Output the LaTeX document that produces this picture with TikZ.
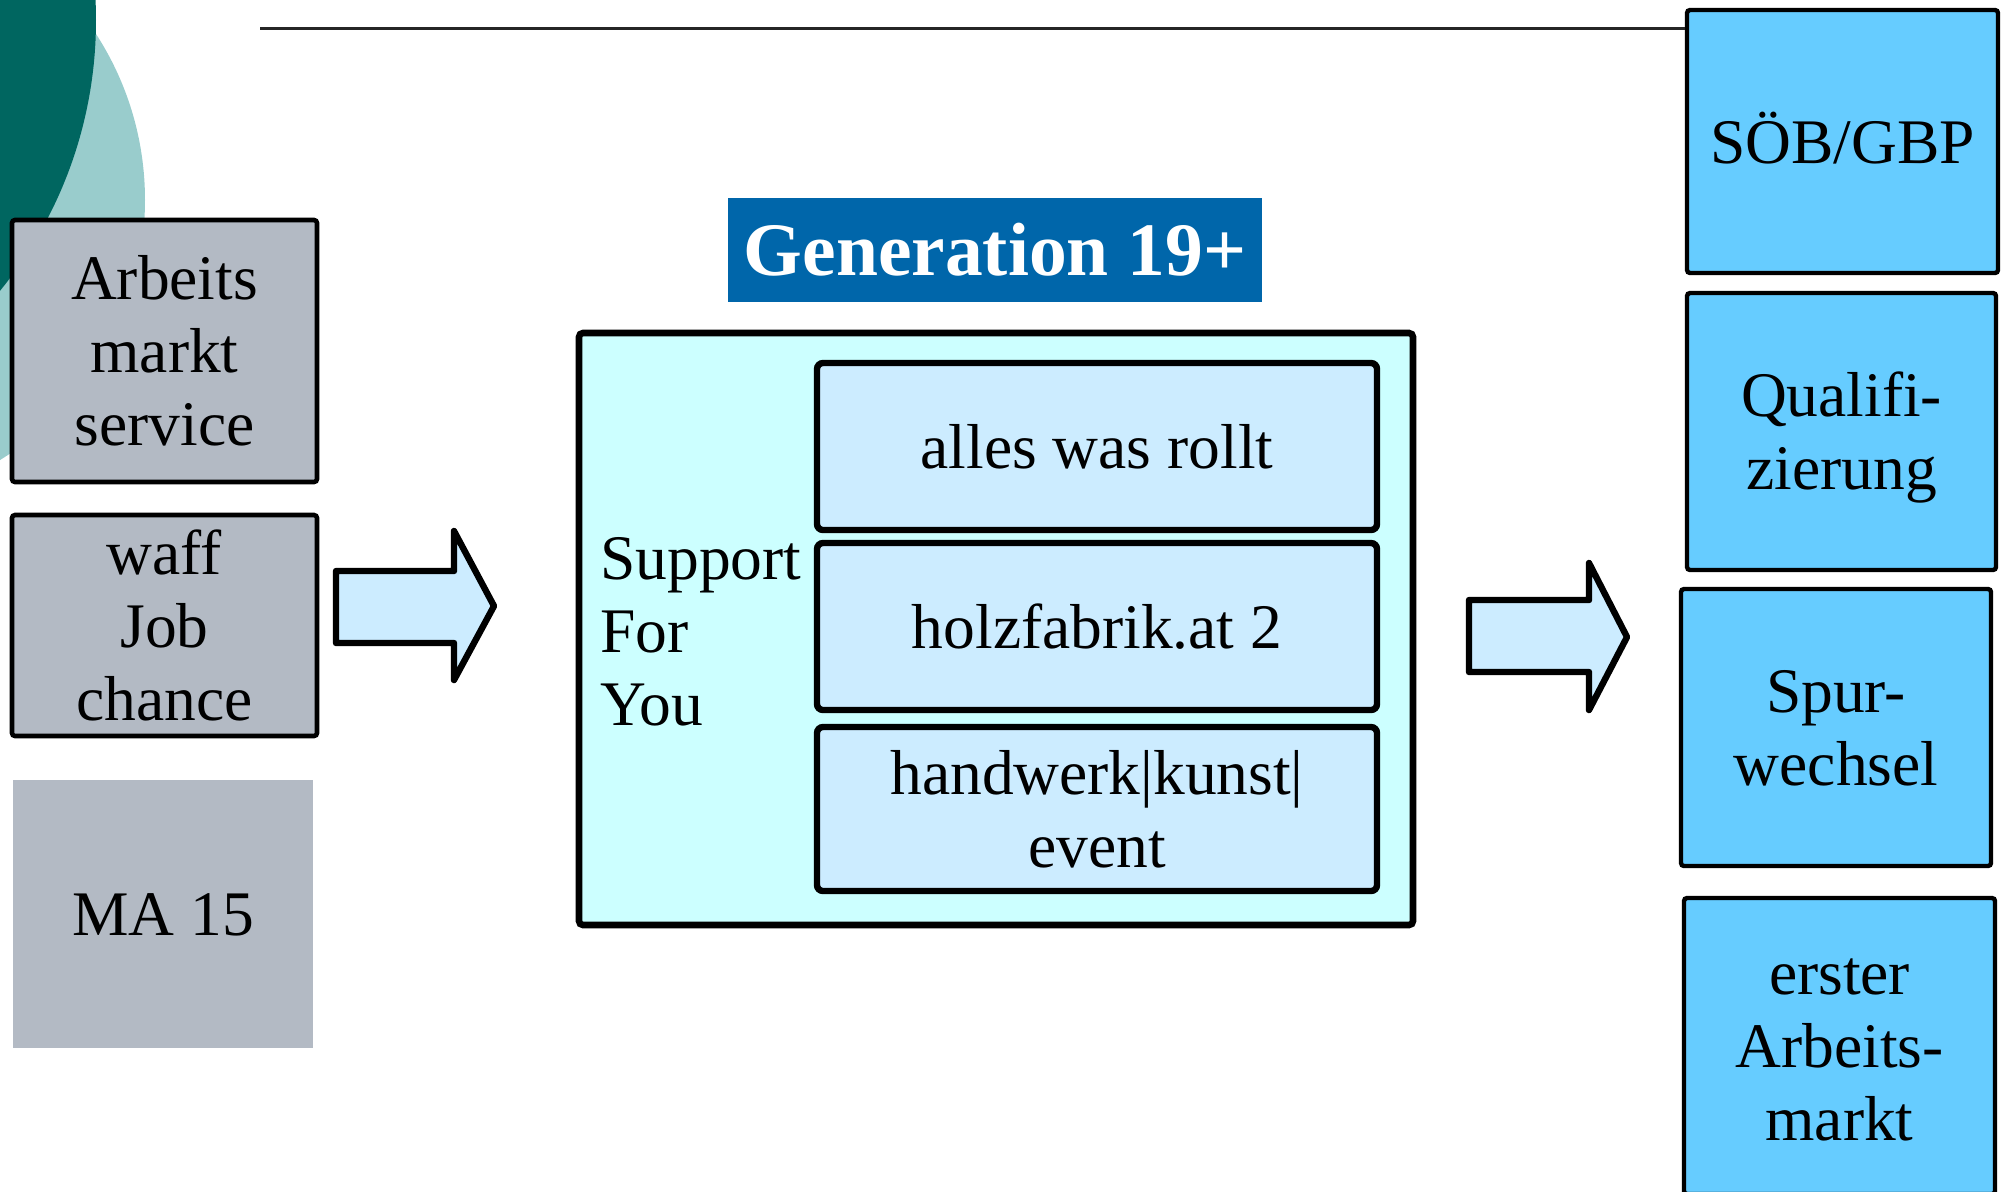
\documentclass[tikz,border=0pt]{standalone}
\usepackage{fontspec}
\setmainfont{Liberation Serif}
\definecolor{darkteal}{RGB}{0,102,96}
\definecolor{lightteal}{RGB}{153,204,204}
\definecolor{graybox}{RGB}{179,186,196}
\definecolor{banner}{RGB}{0,102,170}
\definecolor{bigfill}{RGB}{204,255,255}
\definecolor{innerblue}{RGB}{204,236,255}
\definecolor{rblue}{RGB}{102,204,255}
\newcommand\ls{\rule[-7.3pt]{0pt}{36.5pt}}
\tikzset{
  txt/.style={font=\fontsize{31.75}{36.5}\selectfont, align=center, inner sep=0pt},
  gbox/.style={txt, draw, line width=2.3pt, fill=graybox, rounded corners=1.5pt, minimum width=152.5pt},
  rbox/.style={txt, draw, line width=2.2pt, fill=rblue, rounded corners=1.5pt},
  ibox/.style={txt, draw, line width=3.2pt, fill=innerblue, rounded corners=3pt, minimum width=280pt},
  blockarrow/.style={draw, line width=3.2pt, fill=innerblue, line join=round},
}
\begin{document}
\begin{tikzpicture}[x=0.5pt, y=-0.5pt]
\path[use as bounding box] (0,0) rectangle (2007,1191);
\clip (0,0) rectangle (2007,1191);
% background circles
\fill[lightteal] (-160.6,200) circle[radius=152.8pt];
\fill[darkteal] (-334,20) circle[radius=215pt];
% left boxes
\node[gbox, minimum height=131pt] (ams) at (164.5,351) {\ls Arbeits\\\ls markt\\\ls service};
\node[gbox, minimum height=110.5pt] (waff) at (164.5,625.5) {\ls waff\\\ls Job\\\ls chance};
\node[txt, fill=graybox, minimum width=150pt, minimum height=134pt] (ma) at (163,914) {\ls MA 15};
% banner
\node[fill=banner, text=white, font=\bfseries\fontsize{37.75}{42}\selectfont, inner sep=0pt, minimum width=267pt, minimum height=52pt] (gen) at (995,250) {Generation 19+};
% big box
\node[draw, line width=3.3pt, fill=bigfill, rounded corners=2pt, minimum width=417pt, minimum height=296pt, inner sep=0pt] (big) at (996,629) {};
\node[txt, align=left, anchor=north west] (sfy) at (600,520.6) {\ls Support\\\ls For\\\ls You};
\node[ibox, minimum height=83.5pt] (awr) at (1097,446.5) {\ls alles was rollt};
\node[ibox, minimum height=83.5pt] (holz) at (1097,626.5) {\ls holzfabrik.at 2};
\node[ibox, minimum height=82pt] (hkw) at (1097,809) {\ls handwerk|kunst|\\\ls event};
% right boxes
\node[rbox, minimum width=155.5pt, minimum height=131.5pt] (sob) at (1842.5,141.5) {\ls SÖB/GBP};
\node[rbox, minimum width=154.5pt, minimum height=138.5pt] (qual) at (1841.5,431.5) {\ls Qualifi-\\\ls zierung};
\node[rbox, minimum width=155pt, minimum height=138.5pt] (spur) at (1836,727.5) {\ls Spur-\\\ls wechsel};
\node[rbox, minimum width=155.5pt, minimum height=148pt] (erst) at (1839.5,1046) {\ls erster\\\ls Arbeits-\\\ls markt};
% top line
\coordinate (hl) at (260,28.5);
\draw[line width=1.5pt, black!85] (hl) -- (hl -| sob.west);
% block arrows
\draw[blockarrow] (336,571) -- (454,571) -- (454,531) -- (494,606) -- (454,680) -- (454,643) -- (336,643) -- cycle;
\draw[blockarrow] (1469,600) -- (1589,600) -- (1589,563) -- (1627,637) -- (1589,710) -- (1589,672) -- (1469,672) -- cycle;
\end{tikzpicture}
\end{document}
